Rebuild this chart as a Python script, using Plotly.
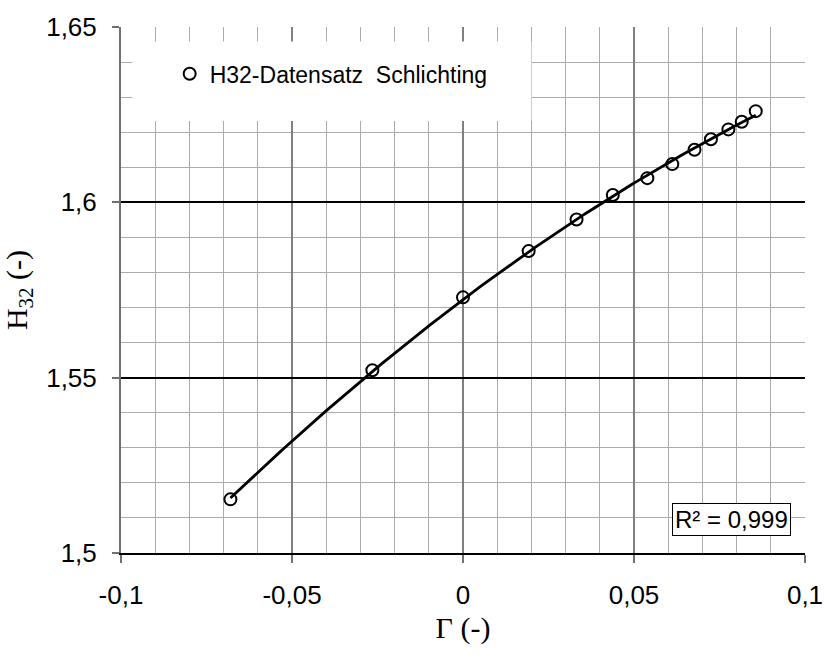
import numpy as np
import plotly.graph_objects as go

# H32 data set (Schlichting): shape parameter Gamma vs. H32
gamma = [-0.0680, -0.0265, 0.0000, 0.0192, 0.0332, 0.0438, 0.0539,
         0.0612, 0.0677, 0.0725, 0.0776, 0.0815, 0.0856]
h32 = [1.5153, 1.5521, 1.5729, 1.5861, 1.5951, 1.6021, 1.6069,
       1.6109, 1.6150, 1.6180, 1.6208, 1.6230, 1.6260]

x_ticks = [-0.1, -0.05, 0, 0.05, 0.1]
x_ticktext = ["-0,1", "-0,05", "0", "0,05", "0,1"]
y_ticks = [1.5, 1.55, 1.6, 1.65]
y_ticktext = ["1,5", "1,55", "1,6", "1,65"]

series_name = "H32-Datensatz  Schlichting"
r2_text = "R² = 0,999"

SANS = "Liberation Sans, Arial, sans-serif"
SERIF = "Liberation Serif, Times New Roman, serif"

# quadratic trend line fitted to the data set
coef = np.polyfit(gamma, h32, 2)
trend_x = np.linspace(min(gamma), max(gamma), 200)
trend_y = np.polyval(coef, trend_x)

fig = go.Figure()

fig.add_trace(go.Scatter(
    x=trend_x, y=trend_y, mode="lines", line=dict(color="black", width=2.8),
    showlegend=False, hoverinfo="skip"))

fig.add_trace(go.Scatter(
    x=gamma, y=h32, mode="markers", name=series_name,
    marker=dict(symbol="circle-open", size=12, color="black", line=dict(width=2, color="black"))))

# white panel behind the legend entry (above the grid, below the data)
fig.add_shape(type="rect", xref="x", yref="y",
              x0=-0.0967, x1=0.0200, y0=1.6232, y1=1.6459,
              fillcolor="white", line=dict(width=0), layer="between")

# coefficient of determination box
fig.add_annotation(
    xref="paper", yref="paper", x=(802 - 120.5) / 695.5, y=(553.3 - 536) / 533.8,
    xanchor="right", yanchor="bottom", text=r2_text, showarrow=False,
    font=dict(family=SANS, size=24, color="black"),
    bgcolor="white", bordercolor="black", borderwidth=1, borderpad=2)

fig.update_layout(
    width=835, height=655,
    margin=dict(l=120.5, r=19, t=19.5, b=101.7),
    paper_bgcolor="white", plot_bgcolor="white",
    font=dict(family=SANS, size=26, color="black"),
    showlegend=True,
    legend=dict(x=(170 - 120.5) / 695.5, y=(553.3 - 67) / 533.8, xanchor="left", yanchor="middle",
                bgcolor="rgba(0,0,0,0)", borderwidth=0,
                font=dict(family=SANS, size=23, color="black"), itemwidth=30),
)

fig.update_xaxes(
    range=[-0.1, 0.1], tickmode="array", tickvals=x_ticks, ticktext=x_ticktext,
    ticks="outside", ticklen=8, tickwidth=2, tickcolor="#707070",
    showline=True, linecolor="black", linewidth=1.5, mirror=False,
    showgrid=True, gridcolor="#808080", gridwidth=2, zeroline=False,
    ticklabelstandoff=10,
    minor=dict(tickmode="linear", tick0=0, dtick=0.01, showgrid=True,
               gridcolor="#ababab", gridwidth=1.3, ticks=""),
    title=dict(text="Γ (-)", font=dict(family=SERIF, size=30), standoff=8),
)

fig.update_yaxes(
    range=[1.5, 1.65], tickmode="array", tickvals=y_ticks, ticktext=y_ticktext,
    ticks="outside", ticklen=7, tickwidth=2, tickcolor="#707070",
    showline=True, linecolor="#707070", linewidth=2, mirror=False,
    showgrid=True, gridcolor="black", gridwidth=1.5, zeroline=False,
    ticklabelstandoff=10,
    minor=dict(tickmode="linear", tick0=1.5, dtick=0.01, showgrid=True,
               gridcolor="#ababab", gridwidth=1.3, ticks=""),
    title=dict(text="H<sub>32</sub> (-)", font=dict(family=SERIF, size=30), standoff=12),
)

fig.write_html("out.html")
